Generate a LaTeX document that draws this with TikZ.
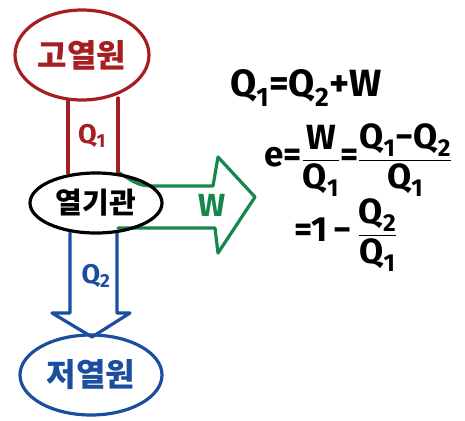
\documentclass[tikz,border=0pt]{standalone}
\usepackage{amsmath}
\usepackage{fontspec}
\setmainfont{Fira Sans}
\newfontfamily\kr{Noto Sans CJK KR}
\usetikzlibrary{shapes.geometric}
\definecolor{hred}{HTML}{A51E22}
\definecolor{hgreen}{HTML}{16874A}
\definecolor{hblue}{HTML}{1B4E9E}
\tikzset{
  pen/.style={line width=3.2pt, line join=round, line cap=round},
  blob/.style={ellipse, pen, inner sep=0pt},
  krtext/.style={font=\kr\bfseries\fontsize{32}{36}\selectfont},
  eq/.style={font=\fontsize{38}{44}\selectfont\bfseries, inner sep=0pt},
  lbl/.style={font=\fontsize{27}{32}\selectfont\bfseries, inner sep=0pt}
}
\begin{document}
\begin{tikzpicture}[x=1pt,y=-1pt]
\useasboundingbox[fill=white] (0,0) rectangle (465,420);
% green W arrow
\draw[pen, hgreen] (118,172) .. controls (140,186) .. (160,186) -- (213,186) -- (218,157) -- (255,197) -- (218,253) -- (215,228) -- (118,228);
% blue Q2 arrow
\draw[pen, hblue] (70,233) -- (70,313) -- (52,313) -- (92,337) -- (130,313) -- (117,313) -- (117,233);
% red column
\draw[pen, hred] (68,100) -- (68,173) (118,98) -- (118,173);
% reservoirs and engine
\node[blob, draw=hred, minimum width=134pt, minimum height=90pt, text=hred, krtext] (hot) at (82,55) {고열원};
\node[blob, draw=black, minimum width=132pt, minimum height=60pt, font=\kr\bfseries\fontsize{29}{32}\selectfont] (eng) at (96,203) {열기관};
\node[blob, draw=hblue, minimum width=142pt, minimum height=80pt, text=hblue, krtext] (cold) at (91,375) {저열원};
% labels
\node[text=hred, lbl] (q1) at (92,136) {Q\textsubscript{1}};
\node[text=hblue, lbl] (q2) at (96,276) {Q\textsubscript{2}};
\node[text=hgreen, lbl, font=\fontsize{32}{36}\selectfont\bfseries] (w) at (212,205) {W};
% equations
\node[eq, anchor=west] (e1) at (230,88) {Q\textsubscript{1}=Q\textsubscript{2}+W};
\node[eq, anchor=west, font=\fontsize{35}{40}\selectfont\bfseries] (e2) at (264,160) {e=\(\dfrac{\text{W}}{\text{Q\textsubscript{1}}}\)=\(\dfrac{\text{Q\textsubscript{1}−Q\textsubscript{2}}}{\text{Q\textsubscript{1}}}\)};
\node[eq, anchor=west, font=\fontsize{35}{40}\selectfont\bfseries] (e3) at (294,235) {=1\,−\,\(\dfrac{\text{Q\textsubscript{2}}}{\text{Q\textsubscript{1}}}\)};
\end{tikzpicture}
\end{document}
